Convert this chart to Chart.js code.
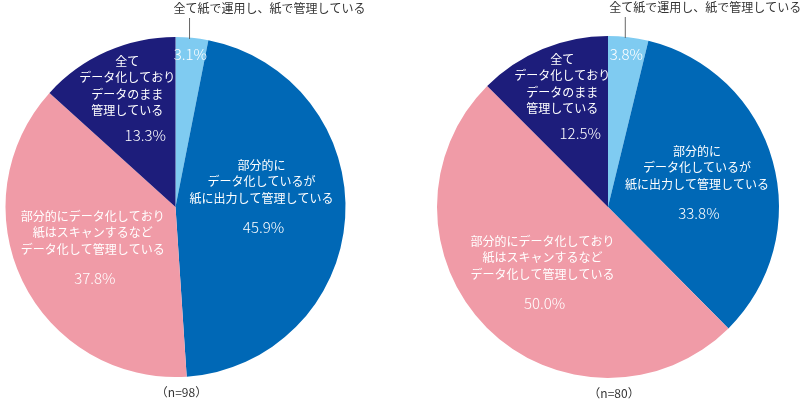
<!DOCTYPE html>
<html>
<head>
<meta charset="utf-8">
<script src="https://cdn.jsdelivr.net/npm/chart.js@4"></script>
<style>
  html, body { margin: 0; padding: 0; background: #fff; }
  .wrap { position: absolute; top: 0; width: 400px; height: 400px; }
  #w1 { left: 0; }
  #w2 { left: 400px; }
</style>
</head>
<body>
<div class="wrap" id="w1"><canvas id="pie1" width="400" height="400"></canvas></div>
<div class="wrap" id="w2"><canvas id="pie2" width="400" height="400"></canvas></div>
<script>
// カテゴリ（表示用の改行付き）
const categories = [
  '全て紙で運用し、紙で管理している',
  '部分的にデータ化しているが紙に出力して管理している',
  '部分的にデータ化しており紙はスキャンするなどデータ化して管理している',
  '全てデータ化しておりデータのまま管理している'
];
const labelLines = [
  ['全て紙で運用し、紙で管理している'],
  ['部分的に', 'データ化しているが', '紙に出力して管理している'],
  ['部分的にデータ化しており', '紙はスキャンするなど', 'データ化して管理している'],
  ['全て', 'データ化しており', 'データのまま', '管理している']
];
const valuesLeft  = [3.1, 45.9, 37.8, 13.3];
const valuesRight = [3.8, 33.8, 50.0, 12.5];
const sampleSizes = [98, 80];

const colors = ['#7fcbf1', '#0068b6', '#f09ba7', '#1d1d7b'];
const FONT = '"Noto Sans CJK JP", "Noto Sans", sans-serif';

// ラベル描画用プラグイン
const sliceLabels = {
  id: 'sliceLabels',
  afterDraw(chart, args, opts) {
    const c = chart.ctx;
    const arcs = chart.getDatasetMeta(0).data;
    const vals = chart.data.datasets[0].data;
    c.save();
    c.textAlign = 'center';
    c.textBaseline = 'middle';
    arcs.forEach((arc, i) => {
      const { x, y, startAngle, endAngle, outerRadius } = arc.getProps(['x', 'y', 'startAngle', 'endAngle', 'outerRadius'], true);
      const mid = (startAngle + endAngle) / 2 + (opts.nudge[i] || 0) * Math.PI / 180;
      const pct = vals[i].toFixed(1) + '%';
      if (i === 0) {
        // 小さいスライス：数値は内側、ラベルは引き出し線で外側
        const px = x + Math.cos(mid) * outerRadius * 0.9;
        const py = y + Math.sin(mid) * outerRadius * 0.9;
        c.fillStyle = '#fff';
        c.font = '300 15px ' + FONT;
        c.fillText(pct, px, py);
        const lx = x + Math.cos(mid) * outerRadius * 0.85;
        const top = y - outerRadius;
        c.strokeStyle = '#666';
        c.lineWidth = 1;
        c.beginPath();
        c.moveTo(lx, top + 2);
        c.lineTo(lx, top - 19);
        c.stroke();
        c.fillStyle = '#333';
        c.font = '12px ' + FONT;
        c.fillText(labelLines[0][0], lx + 80, top - 29);
        return;
      }
      const frac = opts.frac[i];
      const cx = x + Math.cos(mid) * outerRadius * frac;
      const cy = y + Math.sin(mid) * outerRadius * frac;
      const lines = labelLines[i];
      const lh = 16.5;
      const gap = i === 3 ? 25 : 29;
      const total = (lines.length - 1) * lh + gap;
      let ty = cy - total / 2;
      c.fillStyle = '#fff';
      c.font = '12px ' + FONT;
      lines.forEach(t => { c.fillText(t, cx, ty); ty += lh; });
      c.font = '300 15px ' + FONT;
      c.fillText(pct, cx + (i === 3 ? 18 : 2), cy + total / 2);
    });
    // n表示
    c.fillStyle = '#333';
    c.font = '12px ' + FONT;
    const a = chart.chartArea;
    c.fillText('（n=' + opts.n + '）', (a.left + a.right) / 2 + 6, a.bottom + 15);
    c.restore();
  }
};

function renderPie(id, values, n, padding, frac, nudge) {
  new Chart(document.getElementById(id), {
    type: 'pie',
    data: {
      labels: categories,
      datasets: [{
        data: values,
        backgroundColor: colors,
        borderWidth: 0
      }]
    },
    options: {
      responsive: false,
      animation: false,
      layout: { padding },
      plugins: {
        legend: { display: false },
        tooltip: { enabled: false },
        sliceLabels: { n, frac, nudge }
      }
    },
    plugins: [sliceLabels]
  });
}

renderPie('pie1', valuesLeft, sampleSizes[0], { left: 5.5, right: 54.5, top: 37, bottom: 23 },
  [0.9, 0.51, 0.54, 0.70], [0, -11, 0, 0]);
renderPie('pie2', valuesRight, sampleSizes[1], { left: 37, right: 21, top: 36, bottom: 22 },
  [0.9, 0.54, 0.54, 0.70], [0, 0, 0, 0]);
</script>
</body>
</html>
